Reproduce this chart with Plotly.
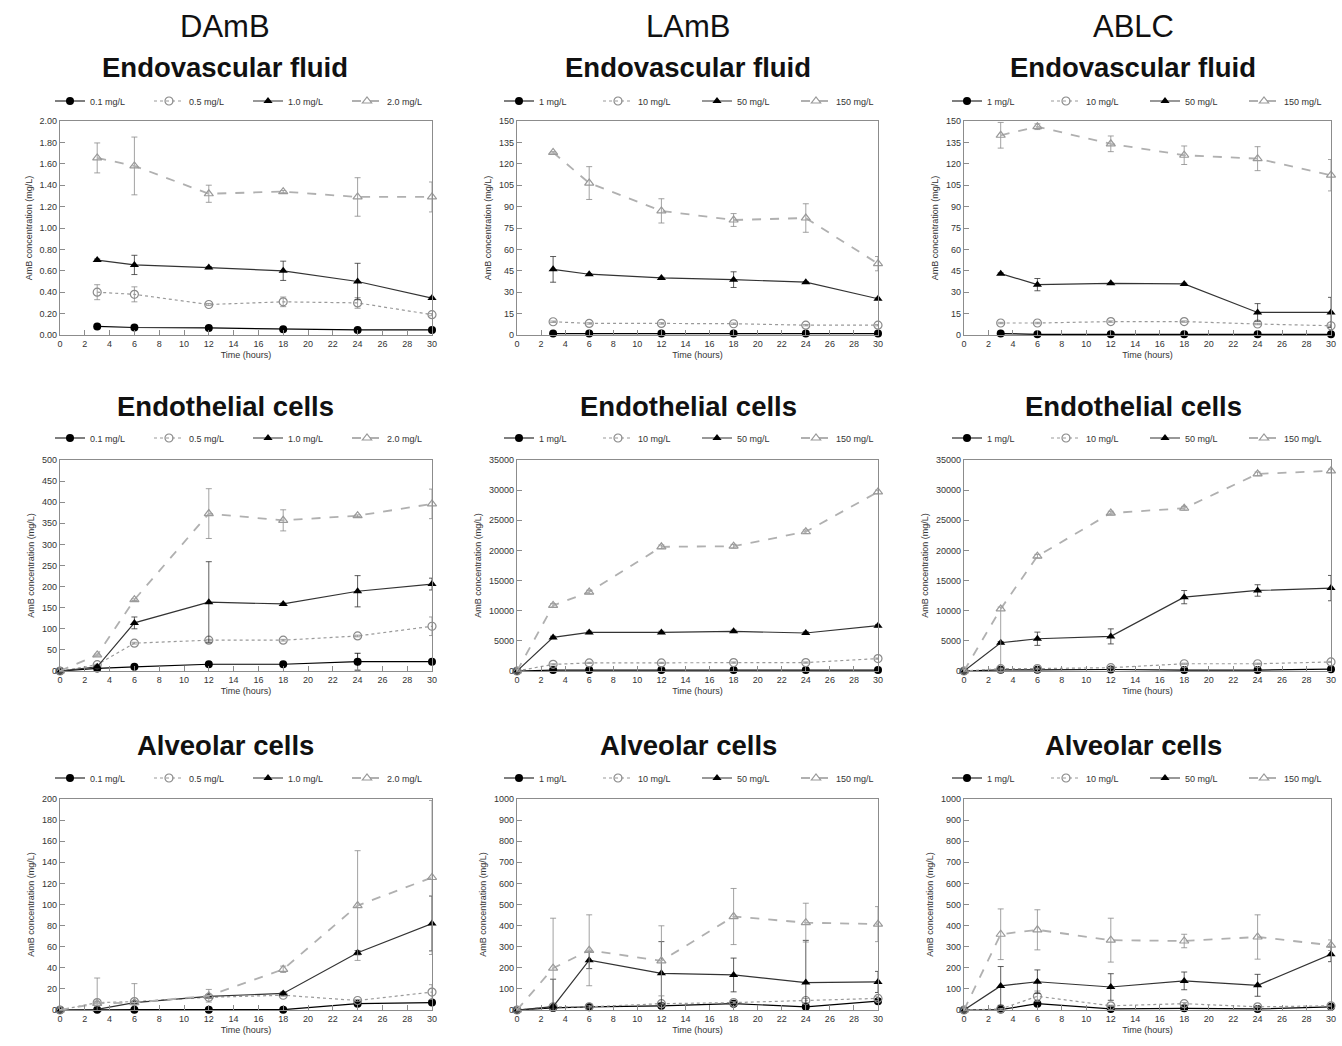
import plotly.graph_objects as go
from plotly.subplots import make_subplots

W, H = 1342, 1046

drugs = ["DAmB", "LAmB", "ABLC"]
compartments = ["Endovascular fluid", "Endothelial cells", "Alveolar cells"]
damb_labels = ["0.1 mg/L", "0.5 mg/L", "1.0 mg/L", "2.0 mg/L"]
lipid_labels = ["1 mg/L", "10 mg/L", "50 mg/L", "150 mg/L"]

t_fluid = [3, 6, 12, 18, 24, 30]
t_cells = [0, 3, 6, 12, 18, 24, 30]

# ---------- Row 1: Endovascular fluid ----------
damb_fluid = [
    [0.08, 0.07, 0.066, 0.053, 0.047, 0.047],
    [0.40, 0.38, 0.285, 0.31, 0.30, 0.19],
    [0.70, 0.655, 0.63, 0.60, 0.50, 0.345],
    [1.655, 1.58, 1.32, 1.34, 1.29, 1.29],
]
damb_fluid_err = [
    [0.005, 0.005, 0.005, 0.005, 0.005, 0.005],
    [0.07, 0.07, 0.01, 0.045, 0.05, 0.01],
    [0.01, 0.09, 0.01, 0.09, 0.17, 0.01],
    [0.14, 0.27, 0.08, 0.01, 0.18, 0.14],
]
lamb_fluid = [
    [1.0, 1.0, 1.0, 1.0, 1.0, 1.0],
    [9.3, 8.1, 8.1, 7.9, 6.9, 6.9],
    [46, 42.6, 40, 38.8, 37, 25.4],
    [128, 106.5, 87, 80.6, 82, 50],
]
lamb_fluid_err = [
    [0.2, 0.2, 0.2, 0.2, 0.2, 0.2],
    [0.5, 0.5, 0.5, 0.5, 0.5, 0.5],
    [9, 0.5, 0.5, 5.5, 0.5, 0.5],
    [0.5, 11.5, 8.5, 4.5, 10, 5],
]
ablc_fluid = [
    [1.0, 0.5, 0.5, 0.5, 0.5, 0.5],
    [8.4, 8.4, 9.4, 9.4, 7.7, 6.5],
    [43, 35.3, 36.2, 35.8, 15.8, 15.8],
    [140, 146, 134, 126, 123.6, 112],
]
ablc_fluid_err = [
    [0.2, 0.2, 0.2, 0.2, 0.2, 0.2],
    [0.5, 0.5, 0.5, 0.5, 0.5, 0.5],
    [0.5, 4.3, 0.5, 0.5, 6.2, 10.6],
    [9, 2, 5.5, 6.5, 8.4, 11],
]

# ---------- Row 2: Endothelial cells ----------
damb_endo = [
    [0, 6, 10, 16, 16, 22, 22],
    [0, 15, 66, 73, 73, 83, 106],
    [0, 10, 114, 163, 159, 189, 206],
    [0, 38, 169, 373, 357, 368, 396],
]
damb_endo_err = [
    [0, 1, 1, 2, 2, 20, 2],
    [0, 1, 2, 2, 2, 2, 22],
    [0, 1, 14, 96, 2, 37, 14],
    [0, 2, 2, 59, 25, 2, 35],
]
lamb_endo = [
    [0, 150, 150, 150, 150, 150, 150],
    [0, 1100, 1340, 1340, 1400, 1400, 2060],
    [0, 5570, 6400, 6400, 6580, 6300, 7520],
    [0, 10870, 13100, 20600, 20700, 23100, 29700],
]
lamb_endo_err = [
    [0, 30, 30, 30, 30, 30, 30],
    [0, 100, 100, 100, 100, 100, 100],
    [0, 200, 200, 200, 200, 200, 200],
    [0, 300, 300, 300, 300, 300, 300],
]
ablc_endo = [
    [0, 200, 200, 250, 150, 150, 300],
    [0, 390, 400, 550, 1200, 1200, 1500],
    [0, 4690, 5350, 5740, 12250, 13360, 13750],
    [0, 10300, 19050, 26200, 27000, 32700, 33200],
]
ablc_endo_err = [
    [0, 50, 50, 50, 50, 50, 50],
    [0, 100, 100, 100, 100, 100, 100],
    [0, 200, 1100, 1250, 1100, 950, 2100],
    [0, 300, 300, 300, 300, 300, 300],
]
ablc_endo_err_lower = [
    [0, 50, 50, 50, 50, 50, 50],
    [0, 100, 100, 100, 100, 100, 100],
    [0, 200, 1100, 1250, 1100, 950, 2100],
    [0, 10300, 300, 300, 300, 300, 300],
]

# ---------- Row 3: Alveolar cells ----------
damb_alv = [
    [0, 0.3, 0.3, 0.3, 0.3, 6, 7],
    [0, 7, 8, 12, 14, 9, 17],
    [0, 0.6, 7, 13, 15.7, 54.3, 82],
    [0, 6.3, 7, 13.5, 38.6, 99, 125.6],
]
damb_alv_err = [
    [0, 0.3, 0.3, 0.3, 0.3, 1, 1],
    [0, 1, 1, 1, 1, 1, 7],
    [0, 0.5, 1, 1, 1, 2, 26],
    [0, 24, 18, 6, 3, 52, 73],
]
lamb_alv = [
    [0, 10, 15, 20, 30, 15, 42],
    [0, 15, 15, 30, 35, 45, 55],
    [0, 16, 236, 174, 166, 130, 133],
    [0, 198, 283, 233, 443, 414, 407],
]
lamb_alv_err = [
    [0, 3, 3, 5, 5, 5, 5],
    [0, 5, 5, 5, 5, 10, 10],
    [0, 130, 40, 150, 80, 200, 50],
    [0, 237, 168, 166, 133, 92, 83],
]
ablc_alv = [
    [0, 2, 30, 5, 8, 5, 15],
    [0, 5, 65, 20, 30, 15, 20],
    [0, 114, 134, 109, 138, 117, 264],
    [0, 359, 380, 331, 327, 346, 307],
]
ablc_alv_err = [
    [0, 1, 5, 1, 1, 1, 2],
    [0, 2, 25, 3, 5, 3, 3],
    [0, 92, 56, 63, 42, 52, 35],
    [0, 120, 95, 104, 32, 105, 25],
]

# (times, values, upper errors, lower errors, legend labels)
panels = [
    [(t_fluid, damb_fluid, damb_fluid_err, damb_fluid_err, damb_labels),
     (t_fluid, lamb_fluid, lamb_fluid_err, lamb_fluid_err, lipid_labels),
     (t_fluid, ablc_fluid, ablc_fluid_err, ablc_fluid_err, lipid_labels)],
    [(t_cells, damb_endo, damb_endo_err, damb_endo_err, damb_labels),
     (t_cells, lamb_endo, lamb_endo_err, lamb_endo_err, lipid_labels),
     (t_cells, ablc_endo, ablc_endo_err, ablc_endo_err_lower, lipid_labels)],
    [(t_cells, damb_alv, damb_alv_err, damb_alv_err, damb_labels),
     (t_cells, lamb_alv, lamb_alv_err, lamb_alv_err, lipid_labels),
     (t_cells, ablc_alv, ablc_alv_err, ablc_alv_err, lipid_labels)],
]

y_axes_cfg = [
    [dict(range=[0, 2], dtick=0.2, tickformat=".2f"),
     dict(range=[0, 150], dtick=15, tickformat="d"),
     dict(range=[0, 150], dtick=15, tickformat="d")],
    [dict(range=[0, 500], dtick=50, tickformat="d"),
     dict(range=[0, 35000], dtick=5000, tickformat="d"),
     dict(range=[0, 35000], dtick=5000, tickformat="d")],
    [dict(range=[0, 200], dtick=20, tickformat="d"),
     dict(range=[0, 1000], dtick=100, tickformat="d"),
     dict(range=[0, 1000], dtick=100, tickformat="d")],
]

styles = [
    dict(line=dict(color="#000000", width=1.2, dash="solid"),
         marker=dict(symbol="circle", color="#000000", size=8)),
    dict(line=dict(color="#9a9a9a", width=1.2, dash="dot"),
         marker=dict(symbol="circle-open", color="#8a8a8a", size=8, line=dict(width=1.2))),
    dict(line=dict(color="#333333", width=1.2, dash="solid"),
         marker=dict(symbol="triangle-up", color="#000000", size=8)),
    dict(line=dict(color="#b0b0b0", width=1.8, dash="dash"),
         marker=dict(symbol="triangle-up-open", color="#9a9a9a", size=8, line=dict(width=1.2))),
]
err_colors = ["#000000", "#8a8a8a", "#333333", "#8a8a8a"]

col_px = [(60, 432), (517, 878), (964, 1331)]
row_px = [(121, 335), (460, 671), (799, 1010)]
title_px = [68, 406, 745]
legend_px = [101, 438, 778]
legend_cx = [248, 697, 1145]
header_x = [225, 688, 1133]

FONT = "Liberation Sans, Arial, sans-serif"
TXT = "#333333"

fig = make_subplots(rows=3, cols=3)

for r in range(3):
    for c in range(3):
        k = r * 3 + c + 1
        leg = "legend" if k == 1 else f"legend{k}"
        t, vals, errs, errs_lo, labels = panels[r][c]
        for i in range(4):
            st = styles[i]
            fig.add_trace(go.Scatter(
                x=t, y=vals[i], name=labels[i], mode="lines+markers",
                line=st["line"], marker=st["marker"],
                error_y=dict(type="data", symmetric=False, array=errs[i],
                             arrayminus=errs_lo[i], visible=True,
                             thickness=0.8, width=3, color=err_colors[i]),
                legend=leg, cliponaxis=False, showlegend=True,
            ), row=r + 1, col=c + 1)
        x0, x1 = col_px[c]
        y0, y1 = row_px[r]
        xa = "xaxis" if k == 1 else f"xaxis{k}"
        ya = "yaxis" if k == 1 else f"yaxis{k}"
        fig.layout[xa].update(
            domain=[x0 / W, x1 / W], range=[0, 30], dtick=2, tick0=0,
            showline=True, linecolor="#8c8c8c", linewidth=1.3, mirror=True,
            ticks="inside", ticklen=5, tickcolor="#8c8c8c",
            showgrid=False, zeroline=False,
            tickfont=dict(size=9, color=TXT, family=FONT),
            title=dict(text="Time (hours)", font=dict(size=9, color=TXT, family=FONT), standoff=3),
        )
        fig.layout[ya].update(
            domain=[1 - y1 / H, 1 - y0 / H],
            showline=True, linecolor="#8c8c8c", linewidth=1.3, mirror=True,
            ticks="inside", ticklen=5, tickcolor="#8c8c8c",
            showgrid=False, zeroline=False,
            tickfont=dict(size=9, color=TXT, family=FONT),
            title=dict(text="AmB concentration (mg/L)", font=dict(size=9, color=TXT, family=FONT), standoff=5),
            **y_axes_cfg[r][c],
        )
        fig.layout[leg] = dict(
            orientation="h", x=legend_cx[c] / W, xanchor="center",
            y=1 - legend_px[r] / H, yanchor="middle",
            font=dict(size=9, color=TXT, family=FONT),
            bgcolor="rgba(0,0,0,0)", itemwidth=30,
            entrywidth=54, entrywidthmode="pixels",
            tracegroupgap=0,
        )

annotations = []
for c in range(3):
    annotations.append(dict(text=drugs[c], x=header_x[c] / W, y=1 - 27 / H,
                            xref="paper", yref="paper", showarrow=False,
                            xanchor="center", yanchor="middle",
                            font=dict(size=31, color="#111111", family=FONT)))
    for r in range(3):
        annotations.append(dict(text="<b>" + compartments[r] + "</b>",
                                x=header_x[c] / W, y=1 - title_px[r] / H,
                                xref="paper", yref="paper", showarrow=False,
                                xanchor="center", yanchor="middle",
                                font=dict(size=27.5, color="#111111", family=FONT)))

fig.update_layout(
    width=W, height=H,
    margin=dict(l=0, r=0, t=0, b=0, autoexpand=False),
    paper_bgcolor="white", plot_bgcolor="white",
    annotations=annotations,
    font=dict(family=FONT),
)

fig.write_html("out.html", config={"displayModeBar": False},
               post_script="document.body.style.margin='0';document.body.style.overflow='hidden';")
